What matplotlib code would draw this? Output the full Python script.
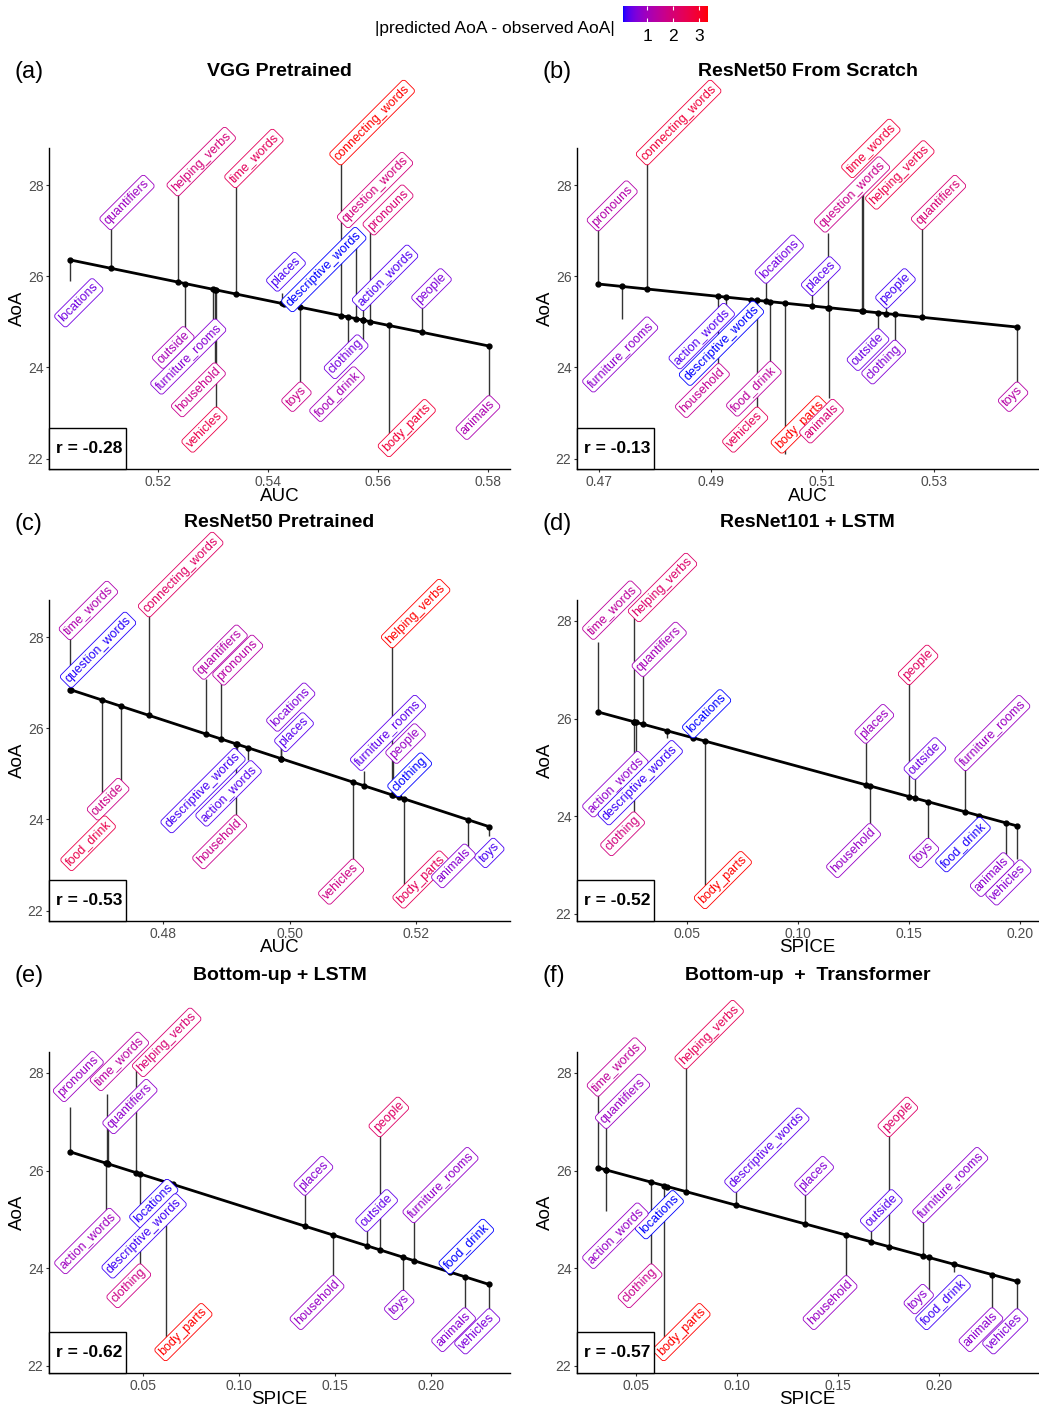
import numpy as np
import matplotlib
matplotlib.use("Agg")
import matplotlib.pyplot as plt
from matplotlib.colors import ListedColormap, Normalize
from matplotlib.patches import Rectangle
from matplotlib.font_manager import FontProperties

plt.rcParams['font.family'] = ['Liberation Sans', 'DejaVu Sans']

# ---- data: observed AoA per category (AUC models) ----
auc_cats = ["locations", "quantifiers", "helping_verbs", "outside", "furniture_rooms",
            "household", "vehicles", "time_words", "places", "toys", "connecting_words",
            "food_drink", "question_words", "action_words", "clothing", "pronouns",
            "body_parts", "people", "animals", "descriptive_words"]
auc_aoa = [25.90, 27.08, 27.82, 24.80, 25.06, 24.05, 23.08, 28.00, 25.63, 23.63, 28.50,
           24.08, 26.95, 25.30, 24.55, 27.05, 22.09, 25.35, 23.33, 25.45]

vgg_pre_auc = [0.5040, 0.5114, 0.5236, 0.5250, 0.5300, 0.5303, 0.5306, 0.5341, 0.5425, 0.5459,
               0.5532, 0.5546, 0.5560, 0.5573, 0.5572, 0.5585, 0.5620, 0.5681, 0.5802, 0.5430]
r50_scratch_auc = [0.4999, 0.5279, 0.5173, 0.5200, 0.4741, 0.4913, 0.4983, 0.5172, 0.5082, 0.5449,
                   0.4786, 0.5007, 0.5111, 0.4928, 0.5230, 0.4698, 0.5034, 0.5215, 0.5112, 0.4972]
r50_pre_auc = [0.4987, 0.4868, 0.5162, 0.4733, 0.5118, 0.4915, 0.5100, 0.4653, 0.4987, 0.5315,
               0.4778, 0.4704, 0.4655, 0.4934, 0.5172, 0.4892, 0.5181, 0.5164, 0.5282, 0.4917]

# ---- data: observed AoA per category (captioning models, SPICE) ----
spice_cats = ["locations", "quantifiers", "helping_verbs", "outside", "furniture_rooms",
              "household", "vehicles", "time_words", "places", "toys", "food_drink",
              "action_words", "clothing", "pronouns", "body_parts", "people", "animals",
              "descriptive_words"]
spice_aoa = [25.65, 26.91, 28.13, 24.80, 24.98, 23.80, 23.12, 27.57, 25.54, 23.50, 23.93,
             25.18, 24.04, 27.31, 22.15, 26.74, 23.14, 25.60]

r101_lstm_spice = [0.0528, 0.0301, 0.0262, 0.1525, 0.1753, 0.1322, 0.1985, 0.0099, 0.1304, 0.1584,
                   0.1816, 0.0272, 0.0260, np.nan, 0.0581, 0.1499, 0.1937, 0.0409]
bu_lstm_spice = [0.0656, 0.0318, 0.0460, 0.1665, 0.1911, 0.1491, 0.2304, 0.0309, 0.1343, 0.1856,
                 0.2099, 0.0305, 0.0483, 0.0118, 0.0617, 0.1734, 0.2177, 0.0637]
bu_trans_spice = [0.0654, 0.0351, 0.0745, 0.1665, 0.1924, 0.1541, 0.2388, 0.0310, 0.1339, 0.1949,
                  0.2074, 0.0349, 0.0574, np.nan, 0.0636, 0.1752, 0.2264, 0.0992]

titles = ["VGG Pretrained", "ResNet50 From Scratch", "ResNet50 Pretrained",
          "ResNet101 + LSTM", "Bottom-up + LSTM", "Bottom-up  +  Transformer"]
tags = ["(a)", "(b)", "(c)", "(d)", "(e)", "(f)"]
r_values = ["-0.28", "-0.13", "-0.53", "-0.52", "-0.62", "-0.57"]
xlabels = ["AUC", "AUC", "AUC", "SPICE", "SPICE", "SPICE"]
xticks = [[0.52, 0.54, 0.56, 0.58], [0.47, 0.49, 0.51, 0.53], [0.48, 0.50, 0.52],
          [0.05, 0.10, 0.15, 0.20], [0.05, 0.10, 0.15, 0.20], [0.05, 0.10, 0.15, 0.20]]
yticks = [22, 24, 26, 28]

panels = [(auc_cats, auc_aoa, vgg_pre_auc), (auc_cats, auc_aoa, r50_scratch_auc),
          (auc_cats, auc_aoa, r50_pre_auc), (spice_cats, spice_aoa, r101_lstm_spice),
          (spice_cats, spice_aoa, bu_lstm_spice), (spice_cats, spice_aoa, bu_trans_spice)]


# blue -> red gradient interpolated in CIE Lab (like ggplot's scale_colour_gradient)
M = np.array([[0.4124, 0.3576, 0.1805], [0.2126, 0.7152, 0.0722], [0.0193, 0.1192, 0.9505]])
WHITE = np.array([0.95047, 1.0, 1.08883])


def to_lab(rgb):
    c = np.asarray(rgb, float)
    lin = np.where(c <= 0.04045, c / 12.92, ((c + 0.055) / 1.055) ** 2.4)
    xyz = M @ lin / WHITE
    d = 6 / 29
    f = np.where(xyz > d ** 3, np.cbrt(xyz), xyz / (3 * d ** 2) + 4 / 29)
    return np.array([116 * f[1] - 16, 500 * (f[0] - f[1]), 200 * (f[1] - f[2])])


def from_lab(lab):
    L, a, b = lab
    fy = (L + 16) / 116
    f = np.array([fy + a / 500, fy, fy - b / 200])
    d = 6 / 29
    xyz = np.where(f > d, f ** 3, 3 * d ** 2 * (f - 4 / 29)) * WHITE
    lin = np.clip(np.linalg.solve(M, xyz), 0, 1)
    c = np.where(lin <= 0.0031308, 12.92 * lin, 1.055 * lin ** (1 / 2.4) - 0.055)
    return np.clip(c, 0, 1)


lab_lo, lab_hi = to_lab([0, 0, 1]), to_lab([1, 0, 0])
cmap = ListedColormap([from_lab(lab_lo + t * (lab_hi - lab_lo)) for t in np.linspace(0, 1, 256)])

W, H = 1039, 1410
DPI = 100
fig = plt.figure(figsize=(W / DPI, H / DPI), dpi=DPI)
renderer = fig.canvas.get_renderer()
LABEL_FS = 9
label_fp = FontProperties(family=['Liberation Sans', 'DejaVu Sans'], size=LABEL_FS)
PAD = 0.2 * LABEL_FS * DPI / 72 + 1

col_left = [49, 577]
row_top = [148, 600, 1052]
ax_w, ax_h = 461, 321
norms = []
S2 = np.sqrt(2)


def push_apart(boxes, n_iter=80):
    # crude repel: move 45deg labels perpendicular to their text direction
    off = np.zeros(len(boxes))
    for _ in range(n_iter):
        moved = False
        for a in range(len(boxes)):
            for b in range(a + 1, len(boxes)):
                ua0, ua1, va0, va1 = boxes[a]
                ub0, ub1, vb0, vb1 = boxes[b]
                va0, va1, vb0, vb1 = va0 + off[a], va1 + off[a], vb0 + off[b], vb1 + off[b]
                ou = min(ua1, ub1) - max(ua0, ub0)
                ov = min(va1, vb1) - max(va0, vb0)
                if ou > 0 and ov > 0:
                    step = ov / 2 + 0.5
                    if (va0 + va1) >= (vb0 + vb1):
                        off[a] += step
                        off[b] -= step
                    else:
                        off[a] -= step
                        off[b] += step
                    moved = True
        if not moved:
            break
    return off


def clamp_x(boxes, off, x_lo, x_hi):
    # horizontal shift that keeps each rotated box inside [x_lo, x_hi]
    out = []
    for (u_0, u_1, v_0, v_1), dv in zip(boxes, off):
        xs_c = [(uu - vv) / S2 for uu in (u_0, u_1) for vv in (v_0 + dv, v_1 + dv)]
        sx = 0.0
        if min(xs_c) < x_lo:
            sx = x_lo - min(xs_c)
        elif max(xs_c) > x_hi:
            sx = x_hi - max(xs_c)
        out.append(sx)
    return np.array(out)


for i, (cats, aoa, xs) in enumerate(panels):
    x = np.array(xs, float)
    y = np.array(aoa, float)
    m = ~np.isnan(x)
    x, y = x[m], y[m]
    names = [n for n, k in zip(cats, m) if k]
    slope, icpt = np.polyfit(x, y, 1)
    pred = icpt + slope * x
    diff = np.abs(pred - y)
    # each panel has its own colour scale
    norm = Normalize(diff.min(), diff.max())
    norms.append(norm)

    r, c = divmod(i, 2)
    l, t = col_left[c], row_top[r]
    ax = fig.add_axes([l / W, 1 - (t + ax_h) / H, ax_w / W, ax_h / H])

    order = np.argsort(x)
    ax.vlines(x, pred, y, color='#333333', lw=1.0, zorder=2)
    ax.plot(x[order], pred[order], color='black', lw=2.0, marker='o', ms=3.5, zorder=3)
    ax.margins(x=0.05, y=0.05)
    y0 = ax.get_ylim()[0]
    ax.get_xlim()

    # label boxes in a frame rotated by 45 degrees (u along text, v across it)
    boxes, sides = [], []
    for xi, yi, pi, name in zip(x, y, pred, names):
        px, py = ax.transData.transform((xi, yi))
        u0, v0 = (px + py) / S2, (py - px) / S2
        tw, th, td = renderer.get_text_width_height_descent(name, label_fp, ismath=False)
        bw, bh = tw + 2 * PAD, th + 2 * PAD
        up = yi >= pi or yi - y0 < 0.8
        sides.append(up)
        if up:
            boxes.append((u0, u0 + bw, v0, v0 + bh))
        else:
            boxes.append((u0 - bw, u0, v0 - bh, v0))

    x_lo, x_hi = ax.bbox.x0 + 3, ax.bbox.x1
    sx1 = clamp_x(boxes, np.zeros(len(boxes)), x_lo, x_hi)
    boxes = [(u_0 + s / S2, u_1 + s / S2, v_0 - s / S2, v_1 - s / S2)
             for (u_0, u_1, v_0, v_1), s in zip(boxes, sx1)]
    off = push_apart(boxes)
    sx2 = clamp_x(boxes, off, x_lo, x_hi)

    for k, (xi, yi, name, d, up) in enumerate(zip(x, y, names, diff, sides)):
        col = cmap(norm(d))
        ha, va = ('left', 'bottom') if up else ('right', 'top')
        dx = (-off[k] / S2 + sx1[k] + sx2[k]) * 72 / DPI
        dy = off[k] / S2 * 72 / DPI
        ax.annotate(name, xy=(xi, yi), xytext=(dx, dy), textcoords='offset points',
                    rotation=45, rotation_mode='anchor', ha=ha, va=va,
                    fontsize=LABEL_FS, color=col, zorder=4, annotation_clip=False,
                    bbox=dict(boxstyle='round,pad=0.2,rounding_size=0.25', fc='white',
                              ec=col, lw=0.6))

    ax.set_xticks(xticks[i])
    ax.set_xticklabels([f"{v:.2f}" for v in xticks[i]])
    ax.set_yticks(yticks)
    ax.tick_params(labelsize=10, labelcolor='#4D4D4D', color='#333333', length=2.5, pad=1.5)
    for s in ['top', 'right']:
        ax.spines[s].set_visible(False)
    for s in ['left', 'bottom']:
        ax.spines[s].set_color('black')
        ax.spines[s].set_linewidth(1.0)

    # r box
    ax.add_patch(Rectangle((0, 0), 77 / ax_w, 41 / ax_h, transform=ax.transAxes,
                           fill=True, fc='white', ec='black', lw=1.0, zorder=5, clip_on=False))
    ax.text(7 / ax_w, 20.5 / ax_h, f"r = {r_values[i]}", transform=ax.transAxes,
            ha='left', va='center', fontsize=12.5, fontweight='bold', zorder=6)

    cx = (l + ax_w / 2) / W
    fig.text(cx, 1 - (t - 77) / H, titles[i], ha='center', va='center',
             fontsize=14, fontweight='bold')
    fig.text((15 if c == 0 else 543) / W, 1 - (t - 76) / H, tags[i], ha='left',
             va='center', fontsize=17)
    fig.text(cx, 1 - (t + ax_h + 27) / H, xlabels[i], ha='center', va='center', fontsize=13.5)
    fig.text((17 if c == 0 else 545) / W, 1 - (t + ax_h / 2) / H, "AoA", rotation=90,
             ha='center', va='center', fontsize=13.5)

# colour bar legend (scale of the first panel)
cax = fig.add_axes([623 / W, 1 - 22 / H, 85 / W, 16 / H])
sm = plt.cm.ScalarMappable(norm=norms[0], cmap=cmap)
cb = fig.colorbar(sm, cax=cax, orientation='horizontal', ticks=[1, 2, 3])
cb.outline.set_visible(False)
cax.tick_params(color='white', labelcolor='black', direction='in', length=3,
                labelsize=12.5, top=True, pad=5)
fig.text(615 / W, 1 - 28 / H, "|predicted AoA - observed AoA|", ha='right',
         va='center', fontsize=12.5)

fig.savefig("out.png", dpi=DPI)
